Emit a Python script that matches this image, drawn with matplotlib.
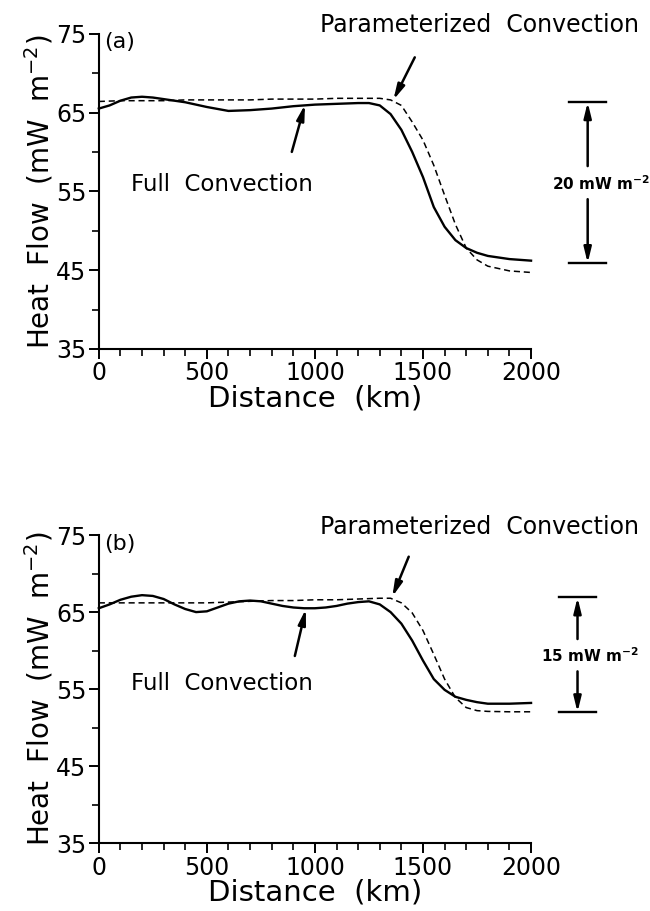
import numpy as np
import matplotlib
matplotlib.use("Agg")
import matplotlib.pyplot as plt
from matplotlib.ticker import MultipleLocator

plt.rcParams['font.family'] = ['DejaVu Sans']

# panel (a) values
xa_full = [0, 50, 100, 150, 200, 250, 300, 400, 500, 600, 700, 800, 900, 1000, 1100,
           1200, 1250, 1300, 1350, 1400, 1450, 1500, 1550, 1600, 1650, 1700, 1750,
           1800, 1900, 2000]
ya_full = [65.5, 65.9, 66.5, 66.9, 67.0, 66.9, 66.7, 66.3, 65.7, 65.2, 65.3, 65.5, 65.8,
           66.0, 66.1, 66.2, 66.2, 65.9, 64.8, 62.8, 60.0, 56.8, 53.0, 50.5, 48.8, 47.8,
           47.2, 46.8, 46.4, 46.2]
xa_par = [0, 100, 200, 300, 400, 500, 600, 700, 800, 900, 1000, 1100, 1200, 1300, 1350,
          1400, 1450, 1500, 1550, 1600, 1650, 1700, 1750, 1800, 1900, 2000]
ya_par = [66.4, 66.5, 66.5, 66.5, 66.6, 66.6, 66.6, 66.6, 66.7, 66.7, 66.7, 66.8, 66.8,
          66.8, 66.6, 65.9, 63.8, 61.5, 58.3, 54.5, 50.8, 47.8, 46.3, 45.5, 44.9, 44.7]

# panel (b)
xb_full = [0, 50, 100, 150, 200, 250, 300, 350, 400, 450, 500, 550, 600, 650, 700, 750,
           800, 850, 900, 950, 1000, 1050, 1100, 1150, 1200, 1250, 1300, 1350, 1400,
           1450, 1500, 1550, 1600, 1650, 1700, 1750, 1800, 1900, 2000]
yb_full = [65.5, 66.0, 66.6, 67.0, 67.2, 67.1, 66.7, 66.0, 65.4, 65.0, 65.1, 65.6, 66.1,
           66.4, 66.5, 66.4, 66.1, 65.8, 65.6, 65.5, 65.5, 65.6, 65.8, 66.1, 66.3, 66.4,
           66.0, 65.0, 63.5, 61.3, 58.7, 56.3, 54.9, 54.0, 53.6, 53.3, 53.1, 53.1, 53.2]
xb_par = [0, 100, 200, 300, 400, 500, 600, 700, 800, 900, 1000, 1100, 1200, 1300, 1350,
          1400, 1450, 1500, 1550, 1600, 1650, 1700, 1750, 1800, 1900, 2000]
yb_par = [66.2, 66.2, 66.2, 66.2, 66.2, 66.2, 66.3, 66.4, 66.5, 66.5, 66.6, 66.6, 66.7,
          66.8, 66.8, 66.2, 64.9, 62.6, 59.5, 56.3, 53.9, 52.6, 52.2, 52.1, 52.05, 52.05]

yticks = [35, 45, 55, 65, 75]
xticks = [0, 500, 1000, 1500, 2000]

fig = plt.figure(figsize=(6.5, 9.11), dpi=100)
ax1 = fig.add_axes([0.152, 0.617, 0.665, 0.346])
ax2 = fig.add_axes([0.152, 0.0746, 0.665, 0.338])


def style(ax, tag):
    ax.set_xlim(0, 2000)
    ax.set_ylim(35, 75)
    ax.set_xticks(xticks)
    ax.set_yticks(yticks)
    ax.xaxis.set_minor_locator(MultipleLocator(100))
    ax.yaxis.set_minor_locator(MultipleLocator(5))
    for s in ['top', 'right']:
        ax.spines[s].set_visible(False)
    for s in ['left', 'bottom']:
        ax.spines[s].set_linewidth(1.5)
    ax.tick_params(which='major', direction='out', length=7, width=1.4, labelsize=17, pad=2)
    ax.tick_params(which='minor', direction='out', length=5, width=1.2)
    ax.set_xlabel('Distance  (km)', fontsize=21, labelpad=-1)
    ax.set_ylabel('Heat  Flow  (mW  m$^{-2}$)', fontsize=20, labelpad=0)
    ax.text(25, 75.2, tag, fontsize=16, va='top', ha='left')


style(ax1, '(a)')
style(ax2, '(b)')

ax1.plot(xa_full, ya_full, color='black', lw=1.7, clip_on=False)
ax1.plot(xa_par, ya_par, color='black', lw=1.1, ls=(0, (4, 2.5)), clip_on=False)
ax2.plot(xb_full, yb_full, color='black', lw=1.7, clip_on=False)
ax2.plot(xb_par, yb_par, color='black', lw=1.1, ls=(0, (4, 2.5)), clip_on=False)

arrow = dict(arrowstyle='-|>,head_length=0.9,head_width=0.22', color='black', lw=1.8,
             shrinkA=0, shrinkB=0)


def notes(ax, par_tip, par_tail, full_tip, full_tail, full_y, bar_top, bar_bot, bar_x,
          label, label_y):
    ax.text(2500, 75.2, 'Parameterized  Convection', fontsize=17, ha='right',
            va='baseline', clip_on=False)
    ax.annotate('', xy=par_tip, xytext=par_tail, arrowprops=arrow, annotation_clip=False)
    ax.text(150, full_y, 'Full  Convection', fontsize=16.5, ha='left', va='center')
    ax.annotate('', xy=full_tip, xytext=full_tail, arrowprops=arrow, annotation_clip=False)
    # scale bar on the right
    for yy in (bar_top, bar_bot):
        ax.plot([bar_x - 85, bar_x + 85], [yy, yy], color='black', lw=1.7, clip_on=False)
    ax.annotate('', xy=(bar_x, bar_top), xytext=(bar_x, label_y + 2.2), arrowprops=arrow,
                annotation_clip=False)
    ax.annotate('', xy=(bar_x, bar_bot), xytext=(bar_x, label_y - 2.0), arrowprops=arrow,
                annotation_clip=False)
    ax.text(bar_x + 60, label_y, label, fontsize=11, fontweight='bold', ha='center',
            va='center', clip_on=False)


notes(ax1, (1363, 66.6), (1462, 72.0), (954, 66.0), (893, 60.0), 55.9,
      66.3, 45.9, 2262, '20 mW m$^{\\mathbf{-2}}$', 56.0)
notes(ax2, (1358, 67.0), (1434, 72.2), (958, 65.4), (907, 59.3), 55.75,
      66.9, 52.0, 2215, '15 mW m$^{\\mathbf{-2}}$', 59.3)

fig.savefig('out.png', dpi=100)
